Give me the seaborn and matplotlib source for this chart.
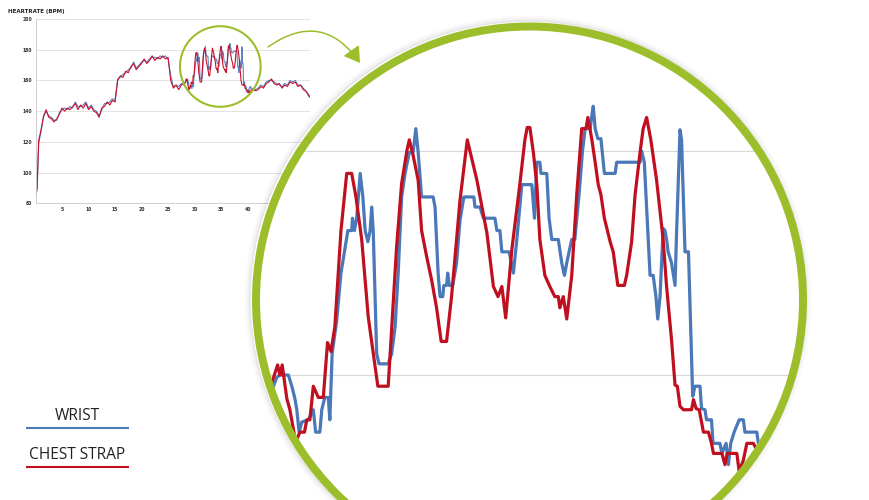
import matplotlib
matplotlib.use("Agg")
import matplotlib.pyplot as plt
import seaborn as sns
import pandas as pd
from matplotlib.patches import Circle, FancyArrowPatch
from matplotlib.transforms import Affine2D

# ---------------- data ----------------
title = "HEARTRATE (BPM)"
series_names = ["WRIST", "CHEST STRAP"]
x_ticks = [5, 10, 15, 20, 25, 30, 35, 40, 45, 50]
y_ticks = [80, 100, 120, 140, 160, 180, 200]

pre_t = [0.0, 0.3, 0.6, 1.0, 1.5, 2.0, 2.5, 3.0, 3.5, 4.0, 4.5, 5.0, 5.5, 6.0, 6.5,
         7.0, 7.5, 8.0, 8.5, 9.0, 9.5, 10.0, 10.5, 11.0, 11.5, 12.0, 12.5, 13.0,
         13.5, 14.0, 14.5, 15.0, 15.5, 16.0, 16.5, 17.0, 17.5, 18.0, 18.5, 19.0,
         19.5, 20.0, 20.5, 21.0, 21.5, 22.0, 22.5, 23.0, 23.5, 24.0, 24.5, 25.0,
         25.5, 26.0, 26.5, 27.0, 27.5, 28.0]
pre_wrist = [84, 89, 119, 126, 137, 140, 137, 136, 134, 134, 139, 141, 142, 141,
             143, 142, 146, 143, 143, 144, 146, 142, 144, 141, 140, 137, 141, 145,
             145, 146, 148, 147, 161, 162, 164, 165, 167, 168, 172, 168, 170, 172,
             173, 172, 174, 175, 175, 174, 176, 175, 176, 174, 163, 156, 157, 156,
             158, 157]
pre_chest = [86, 90, 121, 127, 136, 141, 136, 135, 133, 135, 138, 142, 140, 142,
             141, 143, 145, 141, 144, 142, 145, 141, 143, 140, 139, 136, 142, 143,
             146, 144, 147, 146, 160, 163, 162, 166, 165, 169, 171, 167, 169, 171,
             174, 171, 173, 176, 173, 175, 174, 176, 174, 175, 160, 155, 157, 154,
             157, 158]

zoom_t_wrist = [28.14, 28.24, 28.33, 28.42, 28.50, 28.72, 28.81, 28.89, 28.94, 29.00,
                29.07, 29.24, 29.37, 29.43, 29.54, 29.59, 29.67, 29.76, 29.80, 29.86,
                29.98, 30.09, 30.18, 30.27, 30.37, 30.39, 30.44, 30.50, 30.59, 30.66,
                30.72, 30.79, 30.85, 30.89, 30.93, 31.02, 31.08, 31.32, 31.41, 31.50,
                31.58, 31.67, 31.76, 31.87, 31.97, 32.04, 32.10, 32.19, 32.49, 32.54,
                32.62, 32.67, 32.74, 32.77, 32.84, 32.87, 32.91, 33.00, 33.10, 33.19,
                33.29, 33.55, 33.58, 33.71, 33.80, 34.10, 34.15, 34.23, 34.28, 34.47,
                34.58, 34.67, 34.80, 35.06, 35.13, 35.19, 35.27, 35.30, 35.45, 35.51,
                35.58, 35.75, 35.84, 35.91, 35.97, 36.03, 36.10, 36.18, 36.29, 36.38,
                36.45, 36.58, 36.62, 36.66, 36.71, 36.78, 36.86, 36.95, 37.23, 37.27,
                37.88, 37.92, 37.99, 38.14, 38.22, 38.29, 38.34, 38.40, 38.48, 38.53,
                38.57, 38.61, 38.70, 38.79, 38.83, 38.92, 38.96, 39.05, 39.14, 39.20,
                39.25, 39.31, 39.44, 39.48, 39.57, 39.61, 39.74, 39.78, 39.96, 40.01,
                40.12, 40.18, 40.24, 40.33, 40.46, 40.57, 40.61, 40.92, 40.96, 41.26, 41.52]
zoom_wrist = [157.8, 158.4, 159.0, 159.8, 160.0, 160.0, 159.0, 157.9, 156.9, 154.9,
              155.8, 156.0, 156.9, 154.9, 154.9, 156.9, 158.0, 158.0, 156.0, 161.9,
              164.9, 169.1, 171.0, 172.9, 172.9, 174.0, 172.9, 174.0, 178.0, 175.9,
              172.9, 171.9, 172.9, 175.0, 172.9, 161.9, 161.0, 161.0, 161.9, 164.3,
              169.1, 175.9, 178.0, 179.9, 179.9, 182.0, 179.9, 175.9, 175.9, 175.0,
              169.1, 167.0, 167.0, 168.0, 168.0, 169.1, 168.0, 168.0, 170.0, 173.8,
              175.9, 175.9, 175.0, 175.0, 174.0, 174.0, 172.9, 172.9, 171.0, 171.0,
              169.1, 172.1, 177.0, 177.0, 174.0, 179.0, 179.0, 178.0, 178.0, 174.0,
              172.1, 172.1, 170.0, 168.9, 170.0, 171.0, 172.1, 172.1, 176.1, 180.0,
              182.0, 182.0, 183.1, 184.0, 182.0, 181.1, 181.1, 178.0, 178.0, 179.0,
              179.0, 180.0, 179.0, 168.9, 168.9, 167.1, 165.0, 167.0, 173.1, 172.9,
              172.1, 171.0, 170.0, 168.0, 172.7, 181.9, 181.0, 171.0, 171.0, 163.8,
              158.1, 159.0, 159.0, 157.0, 156.9, 156.0, 156.0, 153.9, 153.9, 153.0,
              153.9, 152.0, 153.9, 154.9, 156.0, 156.0, 154.9, 154.9, 153.9, 153.9, 154.2]

zoom_t_chest = [28.14, 28.24, 28.44, 28.50, 28.56, 28.68, 28.76, 28.91, 29.02, 29.14,
                29.20, 29.28, 29.37, 29.50, 29.63, 29.74, 29.83, 29.93, 30.09, 30.24,
                30.37, 30.48, 30.63, 30.80, 31.05, 31.32, 31.54, 31.67, 31.81, 31.87,
                31.97, 32.10, 32.19, 32.32, 32.45, 32.58, 32.70, 32.84, 32.97, 33.19,
                33.38, 33.63, 33.89, 34.06, 34.18, 34.28, 34.38, 34.54, 34.75, 34.88,
                34.94, 35.01, 35.10, 35.19, 35.27, 35.40, 35.53, 35.66, 35.75, 35.79,
                35.88, 35.97, 36.10, 36.23, 36.36, 36.47, 36.52, 36.62, 36.71, 36.79,
                36.86, 36.95, 37.10, 37.18, 37.30, 37.47, 37.53, 37.66, 37.75, 37.88,
                37.96, 38.05, 38.16, 38.31, 38.48, 38.57, 38.70, 38.79, 38.85, 38.92,
                39.01, 39.22, 39.27, 39.34, 39.42, 39.53, 39.66, 39.74, 39.79, 40.01,
                40.09, 40.15, 40.40, 40.46, 40.57, 40.66, 40.83, 40.92, 41.13, 41.52]
zoom_chest = [158.5, 158.8, 160.9, 160.0, 160.9, 157.9, 156.9, 154.0, 154.9, 154.9,
              156.0, 156.0, 159.0, 158.0, 158.0, 162.9, 162.1, 164.3, 172.9, 178.0,
              178.0, 175.9, 172.1, 165.2, 159.0, 159.0, 171.5, 177.1, 180.1, 181.0,
              179.6, 177.4, 172.9, 170.6, 168.5, 166.0, 163.0, 163.0, 167.0, 175.6,
              181.0, 177.4, 172.7, 167.9, 167.0, 167.9, 165.1, 171.2, 177.1, 181.0,
              182.1, 182.1, 179.9, 177.0, 172.1, 168.9, 167.9, 167.0, 167.0, 166.0,
              167.0, 165.0, 168.9, 176.1, 182.0, 182.0, 183.0, 181.1, 179.0, 177.0,
              176.1, 174.0, 171.9, 171.0, 168.0, 168.0, 168.9, 171.9, 176.1, 179.9,
              182.0, 183.0, 181.0, 177.4, 172.1, 167.9, 163.1, 159.1, 159.0, 157.2,
              156.9, 156.9, 157.8, 157.0, 156.9, 154.9, 154.9, 153.9, 153.0, 153.0,
              152.0, 153.0, 153.0, 151.4, 152.4, 153.9, 153.9, 153.3, 153.8, 153.3]

post_t = [42.0, 42.5, 43.0, 43.5, 44.0, 44.5, 45.0, 45.5, 46.0, 46.5, 47.0, 47.5,
          48.0, 48.5, 49.0, 49.5, 50.0, 50.5, 51.0, 51.5, 51.8]
post_wrist = [155, 157, 156, 159, 160, 160, 159, 158, 157, 156, 158, 157, 160, 159,
              160, 157, 157, 155, 153, 151, 149]
post_chest = [154, 156, 155, 158, 159, 161, 158, 157, 158, 155, 157, 156, 159, 158,
              159, 156, 157, 154, 153, 150, 149]

# ---------------- style ----------------
W, H = 870, 500
BLUE_S, RED_S = "#5a86c5", "#c8102e"
BLUE, RED = "#4a78b8", "#c00f1f"
GREEN = "#9dbe2b"
CX, CY, R = 529.5, 300.0, 273.5

sns.set_theme(style="white")
plt.rcParams["font.family"] = ["DejaVu Sans"]

fig = plt.figure(figsize=(8.7, 5.0), dpi=100)
REF = Affine2D().scale(1 / W, -1 / H).translate(0, 1) + fig.transFigure


def rect(l, t, r, b):
    return [l / W, 1 - b / H, (r - l) / W, (b - t) / H]


wrist_t = pre_t + zoom_t_wrist + post_t
wrist_v = pre_wrist + zoom_wrist + post_wrist
chest_t = pre_t + zoom_t_chest + post_t
chest_v = pre_chest + zoom_chest + post_chest
df = pd.DataFrame({
    "minute": wrist_t + chest_t,
    "bpm": wrist_v + chest_v,
    "device": [series_names[0]] * len(wrist_t) + [series_names[1]] * len(chest_t),
})

# ---------------- small overview chart ----------------
ax = fig.add_axes(rect(35.5, 19, 310, 203.3))
sns.lineplot(data=df, x="minute", y="bpm", hue="device", hue_order=series_names,
             palette=[BLUE_S, RED_S], estimator=None, sort=False, linewidth=0.8,
             legend=False, ax=ax)
ax.set_xlim(0, 51.77)
ax.set_ylim(80, 200)
ax.set_xticks(x_ticks)
ax.set_yticks(y_ticks)
ax.set_xlabel("")
ax.set_ylabel("")
ax.grid(axis="y", color="#dedede", lw=0.6)
ax.grid(axis="x", visible=False)
for s in ["top", "right"]:
    ax.spines[s].set_visible(False)
for s in ["left", "bottom"]:
    ax.spines[s].set_color("#c8c8c8")
    ax.spines[s].set_linewidth(0.6)
ax.tick_params(labelsize=3.3, length=0, pad=2.5, labelcolor="#333333")
for lab in ax.get_xticklabels() + ax.get_yticklabels():
    lab.set_fontweight("bold")
fig.text(8 / W, 1 - 11 / H, title, fontsize=4, fontweight="bold", va="center",
         ha="left", color="#222222")

# ---------------- overlay: disc, small circle, arrow, legend ----------------
ov = fig.add_axes([0, 0, 1, 1], zorder=2)
ov.set_facecolor("none")
ov.set_xlim(0, W)
ov.set_ylim(H, 0)
ov.axis("off")
for extra, a in [(4.5, 0.10), (6.0, 0.06), (7.5, 0.035), (9.0, 0.02)]:
    ov.add_patch(Circle((CX - 1.5, CY - 1.0), R + extra, fill=False, ec="black",
                        lw=1.5 * 0.72, alpha=a))
ov.add_patch(Circle((CX, CY), R, fc="white", ec="none"))
ov.add_patch(Circle((220.3, 66.5), 40.3, fill=False, ec=GREEN, lw=1.5))
ov.add_patch(FancyArrowPatch((268, 47), (360, 63), connectionstyle="arc3,rad=-0.5",
                             arrowstyle="-|>,head_length=0.47,head_width=0.29",
                             mutation_scale=20, color=GREEN, lw=1.1,
                             shrinkA=0, shrinkB=0))
leg_colors = [BLUE, RED]
for name, col, ty, ly in zip(series_names, leg_colors, [416, 455], [428.3, 466.7]):
    ov.text(77.5, ty, name, ha="center", va="center", fontsize=11.2,
            family=["Open Sans", "DejaVu Sans"], color="#222222")
    ov.plot([26, 128.7], [ly, ly], color=col, lw=1.5, solid_capstyle="butt")

# ---------------- magnified view ----------------
axb = fig.add_axes(rect(250, 20, 810, 500), zorder=3)
axb.set_facecolor("none")
for gy in [160, 180]:
    axb.axhline(gy, color="#d6d6d6", lw=0.8, zorder=0)
sns.lineplot(data=df, x="minute", y="bpm", hue="device", hue_order=series_names,
             palette=[BLUE, RED], estimator=None, sort=False, linewidth=2.3,
             legend=False, ax=axb)
axb.set_xlim(27.721, 42.305)
axb.set_ylim(148.84, 191.70)
axb.axis("off")
clip = Circle((CX, CY), R - 3, transform=REF)
for ln in axb.lines:
    ln.set_clip_path(clip)
    ln.set_solid_joinstyle("round")

ov2 = fig.add_axes([0, 0, 1, 1], zorder=4)
ov2.set_facecolor("none")
ov2.set_xlim(0, W)
ov2.set_ylim(H, 0)
ov2.axis("off")
ov2.add_patch(Circle((CX, CY), R, fill=False, ec=GREEN, lw=8 * 0.72))

fig.savefig("out.png", dpi=100)
